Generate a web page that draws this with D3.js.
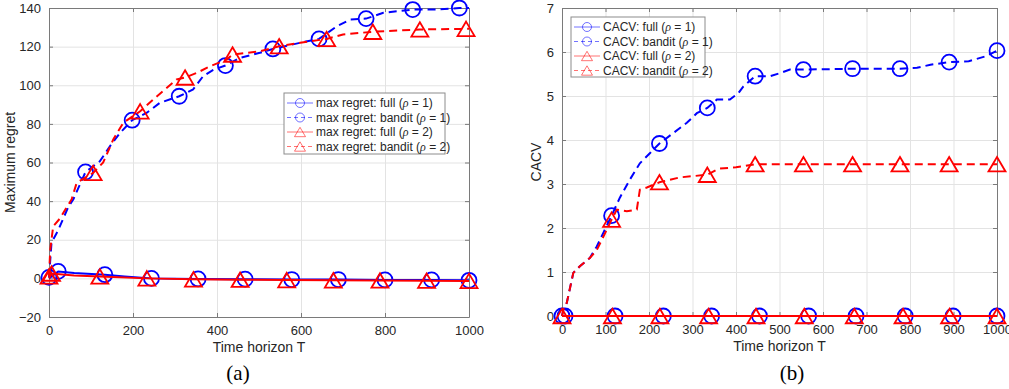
<!DOCTYPE html>
<html>
<head>
<meta charset="utf-8">
<script src="https://cdn.jsdelivr.net/npm/d3@7"></script>
<style>
  body { margin: 0; background: #fff; }
  text { font-family: "Liberation Sans", Arial, sans-serif; fill: #262626; }
</style>
</head>
<body>
<div id="chart-area"></div>
<script>
// ---- data: [T, value] ----
// (a) maximum regret
const regretFull1 = [[0,0],[22,3.6],[60,2.8],[133,1.9],[180,1.0],[244,0],[355,-0.3],[467,-0.4],[578,-0.6],[689,-0.6],[800,-0.8],[911,-0.8],[1000,-1]]
const regretFull1Marks = [22,133,244,355,467,578,689,800,911,1000]
const regretBandit1 = [[0,0.5],[6,18.5],[22,25],[46,37],[58,41],[87,55.1],[121,60.6],[145,68.4],[169,75.3],[198,81.9],[233,85.8],[264,90.9],[310,94.3],[343,97.8],[367,104.7],[391,108],[420,110.2],[455,114.2],[502,116.8],[533,118.8],[598,122],[643,124],[685,130.5],[717,134],[755,134.5],[796,137.5],[866,139.2],[923,139.2],[977,140],[1000,140]]
const regretBandit1Marks = [0,87,198,310,420,533,643,755,866,977]
const regretFull2 = [[0,0],[6,2.5],[60,1.5],[121,1.0],[233,0],[344,-0.5],[455,-0.7],[566,-0.9],[677,-1],[788,-1.1],[899,-1.2],[1000,-1.3]]
const regretFull2Marks = [6,121,233,344,455,566,677,788,899,1000]
const regretBandit2 = [[0,1],[3,15],[10,27],[26,31],[40,36],[54,41],[66,49.5],[105,54.6],[129,60],[153,71.9],[177,80.6],[217,86.5],[248,92.6],[280,98.6],[304,103],[324,104],[352,106.4],[383,109.8],[423,113.3],[437,115.9],[471,116.8],[502,117.6],[548,120.2],[598,122],[661,124],[700,126.3],[771,127.7],[883,128.9],[993,129.2],[1000,129.2]]
const regretBandit2Marks = [0,105,217,324,437,548,661,771,883,993]

// (b) CACV
const cacvFull1 = [[0,0],[7,0],[122,0],[233,0],[344,0],[454,0],[567,0],[676,0],[789,0],[899,0],[1000,0]]
const cacvFull1Marks = [7,122,233,344,454,567,676,789,899,1000]
const cacvBandit1 = [[0,0],[3,0.14],[11,0.3],[26,0.98],[41,1.13],[64,1.32],[80,1.58],[95,1.89],[114,2.28],[133,2.69],[156,3.1],[179,3.47],[202,3.7],[224,3.92],[256,4.16],[287,4.39],[310,4.61],[334,4.73],[356,4.92],[386,4.92],[406,5.07],[417,5.22],[444,5.45],[478,5.45],[501,5.52],[524,5.6],[555,5.6],[668,5.62],[777,5.62],[816,5.64],[847,5.71],[890,5.77],[935,5.79],[973,5.9],[1000,6.03]]
const cacvBandit1Marks = [0,114,224,334,444,555,668,777,890,1000]
const cacvFull2 = [[0,0],[116,0],[225,0],[337,0],[446,0],[557,0],[672,0],[784,0],[891,0],[1000,0]]
const cacvFull2Marks = [116,225,337,446,557,672,784,891,1000]
const cacvBandit2 = [[0,0],[3,0.14],[11,0.3],[26,0.98],[41,1.13],[64,1.32],[80,1.5],[95,1.8],[114,2.19],[126,2.42],[149,2.38],[172,2.42],[179,2.87],[195,2.92],[224,3.04],[271,3.15],[334,3.21],[360,3.35],[400,3.38],[444,3.45],[555,3.45],[668,3.45],[777,3.45],[890,3.45],[1000,3.45]]
const cacvBandit2Marks = [0,114,224,334,444,555,668,777,890,1000]

const regretLegend = ["max regret: full (", "max regret: bandit (", "max regret: full (", "max regret: bandit ("]
const cacvLegend = ["CACV: full (", "CACV: bandit (", "CACV: full (", "CACV: bandit ("]
const rhoValues = [1, 1, 2, 2]

const regretXTicks = [0,200,400,600,800,1000]
const regretYTicks = [-20,0,20,40,60,80,100,120,140]
const cacvXTicks = [0,100,200,300,400,500,600,700,800,900,1000]
const cacvYTicks = [0,1,2,3,4,5,6,7]

const BLUE = "#0000ff", RED = "#ff0000"

const svg = d3.select("#chart-area").append("svg")
  .attr("width", 1009)
  .attr("height", 389)

function drawPanel(p) {
  const x = d3.scaleLinear().domain([0, 1000]).range([p.left, p.right])
  const y = d3.scaleLinear().domain(p.yDomain).range([p.bottom, p.top])
  const g = svg.append("g")
  const w = p.right - p.left, h = p.bottom - p.top
  const fmt = d3.format("d")

  // grid
  g.append("g").attr("transform", `translate(0,${p.bottom})`)
    .call(d3.axisBottom(x).tickValues(p.xTicks).tickSize(-h).tickFormat(""))
    .call(a => a.select(".domain").remove())
    .selectAll("line").attr("stroke", "#e3e3e3")
  g.append("g").attr("transform", `translate(${p.left},0)`)
    .call(d3.axisLeft(y).tickValues(p.yTicks).tickSize(-w).tickFormat(""))
    .call(a => a.select(".domain").remove())
    .selectAll("line").attr("stroke", "#e3e3e3")

  // axes (inward ticks, mirrored)
  const axCol = "#7a7a7a"
  const xb = g.append("g").attr("transform", `translate(0,${p.bottom})`)
    .call(d3.axisBottom(x).tickValues(p.xTicks).tickSize(-4).tickPadding(9).tickSizeOuter(0).tickFormat(fmt))
  const xt = g.append("g").attr("transform", `translate(0,${p.top})`)
    .call(d3.axisTop(x).tickValues(p.xTicks).tickSize(-4).tickFormat("").tickSizeOuter(0))
  const yl = g.append("g").attr("transform", `translate(${p.left},0)`)
    .call(d3.axisLeft(y).tickValues(p.yTicks).tickSize(-4).tickPadding(8).tickSizeOuter(0).tickFormat(fmt))
  const yr = g.append("g").attr("transform", `translate(${p.right},0)`)
    .call(d3.axisRight(y).tickValues(p.yTicks).tickSize(-4).tickFormat("").tickSizeOuter(0))
  ;[xb, xt, yl, yr].forEach(a => {
    a.select(".domain").attr("stroke", axCol)
    a.selectAll("line").attr("stroke", axCol)
    a.selectAll("text").attr("font-size", "13px").attr("fill", "#262626")
      .attr("font-family", "Liberation Sans, Arial, sans-serif")
  })

  // series
  const line = d3.line().x(d => x(d[0])).y(d => y(d[1]))
  p.series.forEach(s => {
    g.append("path").datum(s.data)
      .attr("fill", "none")
      .attr("stroke", s.color)
      .attr("stroke-width", 2)
      .attr("stroke-dasharray", s.dashed ? "8,5" : null)
      .attr("d", line)
    const pts = s.data.filter(d => s.marks.includes(d[0]))
    drawMarkers(g, pts.map(d => [x(d[0]), y(d[1])]), s.shape, s.color, s.shape === "circle" ? 7.5 : 8.5, 1.8, 1)
  })

  // labels
  g.append("text")
    .attr("x", (p.left + p.right) / 2).attr("y", p.bottom + 35)
    .attr("text-anchor", "middle").attr("font-size", "14px")
    .text("Time horizon T")
  g.append("text")
    .attr("transform", `translate(${p.yLabelX},${(p.top + p.bottom) / 2}) rotate(-90)`)
    .attr("text-anchor", "middle").attr("font-size", "14px")
    .text(p.yLabel)
  g.append("text")
    .attr("x", p.captionX).attr("y", 380)
    .attr("text-anchor", "middle").attr("font-size", "21px")
    .style("font-family", "Liberation Serif, Times New Roman, serif")
    .style("fill", "#000")
    .text(p.caption)

  // legend
  const lg = p.legend
  g.append("rect")
    .attr("x", lg.x).attr("y", lg.y).attr("width", lg.w).attr("height", lg.h)
    .attr("fill", "#fff").attr("stroke", "#8c8c8c").attr("stroke-width", 1)
  p.series.forEach((s, i) => {
    const cy = lg.y + 10 + i * 14.5
    g.append("line")
      .attr("x1", lg.x + 3).attr("x2", lg.x + 29).attr("y1", cy).attr("y2", cy)
      .attr("stroke", s.color).attr("stroke-width", 1).attr("opacity", 0.55)
      .attr("stroke-dasharray", s.dashed ? "4,3" : null)
    drawMarkers(g, [[lg.x + 16, cy]], s.shape, s.color, s.shape === "circle" ? 4.5 : 5.5, 1, 0.55)
    const t = g.append("text")
      .attr("x", lg.x + 32).attr("y", cy + 4)
      .attr("font-size", "12px")
    t.append("tspan").text(lg.labels[i])
    t.append("tspan").attr("font-style", "italic")
      .style("font-family", "Liberation Serif, Times New Roman, serif").text("ρ")
    t.append("tspan").text(" = " + rhoValues[i] + ")")
  })
}

function drawMarkers(g, pts, shape, color, r, sw, op) {
  pts.forEach(([px, py]) => {
    if (shape === "circle") {
      g.append("circle").attr("cx", px).attr("cy", py).attr("r", r)
        .attr("fill", "none").attr("stroke", color).attr("stroke-width", sw).attr("opacity", op)
    } else {
      const hh = r * 0.85
      g.append("path")
        .attr("d", `M${px},${py - hh}L${px + r},${py + hh}L${px - r},${py + hh}Z`)
        .attr("fill", "none").attr("stroke", color).attr("stroke-width", sw).attr("opacity", op)
    }
  })
}

drawPanel({
  left: 49, right: 469, top: 8, bottom: 317,
  yDomain: [-20, 140], xTicks: regretXTicks, yTicks: regretYTicks,
  yLabel: "Maximum regret", yLabelX: 15, caption: "(a)", captionX: 238,
  legend: { x: 284, y: 93, w: 161, h: 61, labels: regretLegend },
  series: [
    { data: regretFull1, marks: regretFull1Marks, color: BLUE, dashed: false, shape: "circle" },
    { data: regretBandit1, marks: regretBandit1Marks, color: BLUE, dashed: true, shape: "circle" },
    { data: regretFull2, marks: regretFull2Marks, color: RED, dashed: false, shape: "triangle" },
    { data: regretBandit2, marks: regretBandit2Marks, color: RED, dashed: true, shape: "triangle" }
  ]
})

drawPanel({
  left: 562, right: 997, top: 8, bottom: 316,
  yDomain: [0, 7], xTicks: cacvXTicks, yTicks: cacvYTicks,
  yLabel: "CACV", yLabelX: 541, caption: "(b)", captionX: 792,
  legend: { x: 571, y: 17, w: 134, h: 60, labels: cacvLegend },
  series: [
    { data: cacvFull1, marks: cacvFull1Marks, color: BLUE, dashed: false, shape: "circle" },
    { data: cacvBandit1, marks: cacvBandit1Marks, color: BLUE, dashed: true, shape: "circle" },
    { data: cacvFull2, marks: cacvFull2Marks, color: RED, dashed: false, shape: "triangle" },
    { data: cacvBandit2, marks: cacvBandit2Marks, color: RED, dashed: true, shape: "triangle" }
  ]
})
</script>
</body>
</html>
